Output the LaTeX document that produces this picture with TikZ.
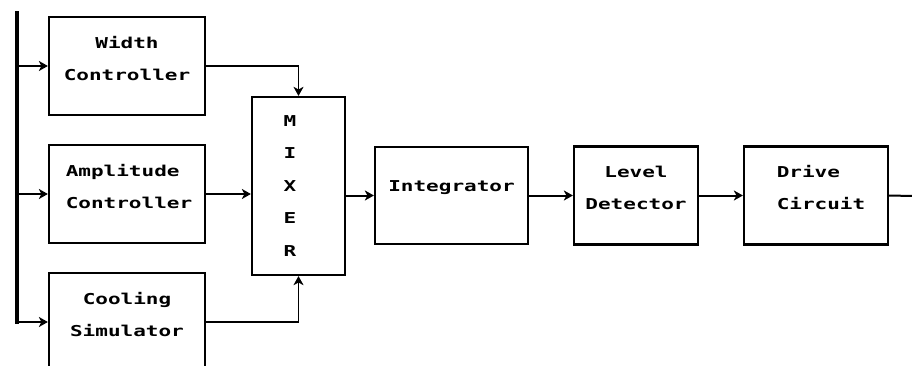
\documentclass[tikz,border=0pt]{standalone}
\usepackage{fontspec}
\newfontfamily\blockfont{DejaVu Sans Mono}[FakeStretch=1.4]
\usetikzlibrary{arrows.meta}

\tikzstyle{block} = [rectangle, draw, line width=2.2pt, minimum width=156pt,
    minimum height=98pt, inner sep=0pt]
\tikzstyle{caption} = [align=center, inner sep=0pt,
    font=\blockfont\bfseries\fontsize{15}{32}\selectfont]
\tikzstyle{line} = [draw, line width=2pt, -{Stealth[length=9pt,width=10pt,inset=2.5pt]}]
\tikzstyle{thin line} = [line, line width=1.3pt]

\begin{document}
\begin{tikzpicture}[x=1pt, y=-1pt, node distance=128pt]
	\useasboundingbox (0,0) rectangle (912,366);
	% Nodes
	\node [block] (AmplitudeController) at (127,194) {};
	\node [block, above of=AmplitudeController] (WidthController) {};
	\node [block, below of=AmplitudeController] (CoolingSimulator) {};
	\node [block, minimum width=93pt, minimum height=178pt] (Mixer) at (298.5,186) {};
	\node [block, minimum width=153pt, minimum height=97pt] (Integrator) at (451.5,195.5) {};
	\node [block, minimum width=124pt, right of=Integrator, node distance=184.5pt] (LevelDetector) {};
	\node [block, minimum width=144pt, right of=LevelDetector, node distance=180pt] (DriveCircuit) {};

	% Texts
	\node [caption] (WidthText) at ([yshift=7pt]WidthController.center) {Width\\Controller};
	\node [caption, align=left] (AmplitudeText) at ([yshift=7pt,xshift=2pt]AmplitudeController.center) {Amplitude\\Controller};
	\node [caption] (CoolingText) at ([yshift=7pt]CoolingSimulator.center) {Cooling\\Simulator};
	\node [caption, font=\blockfont\bfseries\fontsize{15}{32.5}\selectfont] (MixerText) at ([xshift=-8.5pt]Mixer.center) {M\\I\\X\\E\\R};
	\node [caption] (IntegratorText) at ([yshift=7.5pt]Integrator.center) {Integrator};
	\node [caption] (LevelText) at ([yshift=7.5pt]LevelDetector.center) {Level\\Detector};
	\node [caption, align=left] (DriveText) at ([yshift=8pt,xshift=5pt]DriveCircuit.center) {Drive\\Circuit};

	% Bus
	\coordinate (BusTop) at (17,13);
	\coordinate (BusBottom) at (BusTop |- CoolingSimulator.west);
	\coordinate (Output) at (912,196);
	\path [draw, line width=3.2pt, line cap=rect] (BusTop) -- (BusBottom);

	% Arrows
	\path [line] (BusTop |- WidthController.west) -- (WidthController.west);
	\path [line] (BusTop |- AmplitudeController.west) -- (AmplitudeController.west);
	\path [line] (BusBottom) -- (CoolingSimulator.west);
	\path [thin line] (WidthController.east) -| (Mixer.north);
	\path [line] (AmplitudeController.east) -- (AmplitudeController.east -| Mixer.west);
	\path [thin line] (CoolingSimulator.east) -| (Mixer.south);
	\path [line] (Integrator.west -| Mixer.east) -- (Integrator.west);
	\path [line] (Integrator.east) -- (Integrator.east -| LevelDetector.west);
	\path [line] (LevelDetector.east) -- (DriveCircuit.west);
	\path [draw, line width=2pt] (DriveCircuit.east) -- (Output);

\end{tikzpicture}
\end{document}
